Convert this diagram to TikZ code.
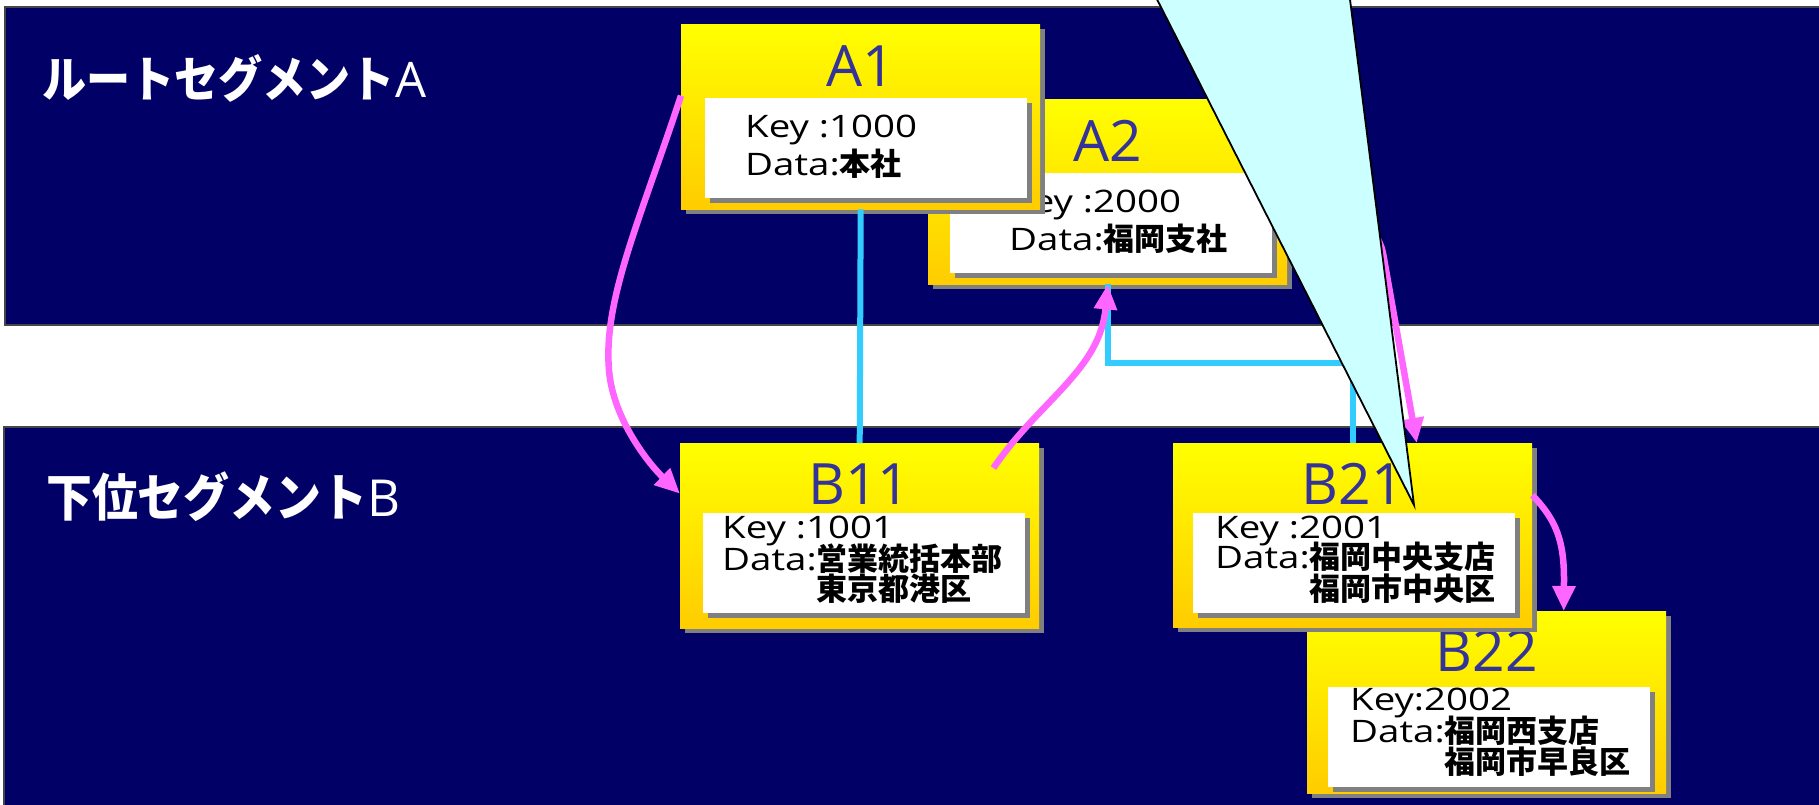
\documentclass[tikz,border=0pt]{standalone}
\usepackage{fontspec}
\setmainfont{Open Sans}
\newfontfamily\lat{Open Sans}[FakeStretch=1.24]
\newfontfamily\jp{Noto Sans CJK JP}
\newfontfamily\jplab{Noto Sans CJK JP}[FakeStretch=0.9]
\usetikzlibrary{arrows.meta}
\definecolor{navy}{RGB}{0,0,102}
\definecolor{bandline}{RGB}{70,70,70}
\definecolor{ytop}{RGB}{255,255,0}
\definecolor{ybot}{RGB}{255,204,0}
\definecolor{shgray}{RGB}{128,128,128}
\definecolor{headblue}{RGB}{51,51,153}
\definecolor{linkcyan}{RGB}{51,204,255}
\definecolor{arrowpink}{RGB}{255,102,255}
\definecolor{callcyan}{RGB}{204,255,255}
\tikzset{
  band/.style={fill=navy, draw=bandline, line width=1.5pt},
  seglabel/.style={anchor=base west, inner sep=0, text=white},
  ybox/.style={anchor=north west, minimum width=359pt, minimum height=185pt, inner sep=0, top color=ytop, bottom color=ybot, draw=none},
  wbox/.style={anchor=north west, minimum width=322pt, minimum height=100pt, inner sep=0, fill=white},
  shad/.style={fill=shgray},
  head/.style={inner sep=0, text=headblue, font=\fontsize{57}{57}\selectfont},
  keyt/.style={anchor=base west, inner sep=0, font=\lat\fontsize{31}{31}\selectfont},
  link/.style={draw=linkcyan, line width=6pt},
  parrow/.style={draw=arrowpink, line width=6.5pt, -{Triangle[length=25pt,width=22pt]}},
  callout/.style={fill=callcyan, draw=black, line width=1.8pt, line join=miter}
}
\newcommand\kj[1]{{\jp\bfseries #1}}
\begin{document}
\begin{tikzpicture}[x=1pt,y=-1pt]
\useasboundingbox (0,0) rectangle (1819,804);
\clip (0,0) rectangle (1819,804);
\fill[white] (0,0) rectangle (1819,804);
% bands
\draw[band] (5,7) rectangle (1840,325);
\draw[band] (4,427) rectangle (1840,830);
\node[seglabel, font=\fontsize{49}{49}\selectfont] (labA) at (42,97) {{\jplab\bfseries ルートセグメント}A};
\node[seglabel, font=\fontsize{51}{51}\selectfont] (labB) at (46,516) {{\jplab\bfseries 下位セグメント}B};

% A2 box
\fill[shad] (933,104) rectangle ++(359,185);
\node[ybox] (A2) at (928,99) {};
\fill[shad] (955,178) rectangle ++(322,100);
\node[wbox] (A2w) at (950,173) {};
\node[head] (A2h) at (1107.5,141) {A2};
\node[keyt] (A2k) at (1009,212) {Key :2000};
\node[keyt] (A2d) at (1009,250) {Data:\kj{福岡支社}};

% A1 box
\fill[shad] (686,29) rectangle ++(359,185);
\node[ybox] (A1) at (681,24) {};
\fill[shad] (710,103) rectangle ++(322,100);
\node[wbox] (A1w) at (705,98) {};
\node[head] (A1h) at (860.5,66) {A1};
\node[keyt] (A1k) at (745,137) {Key :1000};
\node[keyt] (A1d) at (745,175) {Data:\kj{本社}};

% B11 box
\fill[shad] (685,448) rectangle ++(359,185);
\node[ybox] (B11) at (680,443) {};
\fill[shad] (708,518) rectangle ++(322,100);
\node[wbox] (B11w) at (703,513) {};
\node[head] (B11h) at (859.5,484) {B11};
\node[keyt] (B11k) at (722,538) {Key :1001};
\node[keyt] (B11d) at (722,570) {Data:\kj{営業統括本部}};
\node[keyt] (B11e) at (722,600) {\phantom{Data:}\kj{東京都港区}};

% B22 box
\fill[shad] (1312,616) rectangle ++(359,182);
\node[ybox, minimum height=182pt] (B22) at (1307,611) {};
\fill[shad] (1333,692) rectangle ++(322,100);
\node[wbox] (B22w) at (1328,687) {};
\node[head] (B22h) at (1486.5,651) {B22};
\node[keyt] (B22k) at (1350,710) {Key:2002};
\node[keyt] (B22d) at (1350,742) {Data:\kj{福岡西支店}};
\node[keyt] (B22e) at (1350,773) {\phantom{Data:}\kj{福岡市早良区}};

% B21 box
\fill[shad] (1178,448) rectangle ++(359,184);
\node[ybox, minimum height=184pt] (B21) at (1173,443) {};
\fill[shad] (1198,518) rectangle ++(322,100);
\node[wbox] (B21w) at (1193,513) {};
\node[head] (B21h) at (1352.5,484) {B21};
\node[keyt] (B21k) at (1215,538) {Key :2001};
\node[keyt] (B21d) at (1215,568) {Data:\kj{福岡中央支店}};
\node[keyt] (B21e) at (1215,600) {\phantom{Data:}\kj{福岡市中央区}};

% cyan links
\draw[link] (A1.south) -- (B11.north);
\draw[link] (A2.south) -- (A2.south |- 0,363) -| (B21.north);

% pink arrows
\draw[parrow] ([yshift=21pt]A1.west) .. controls (640,220) and (603,300) .. (609,370) .. controls (613,420) and (650,465) .. ([yshift=42pt]B11.west);
\draw[parrow] ([xshift=-46pt,yshift=-25pt]B11.north east) .. controls (1040,400) and (1100,370) .. (A2.south);
\draw[parrow] (A2.east) .. controls (1340,200) and (1377,223) .. (1383,253) -- ([xshift=64pt]B21.north);
\draw[parrow] ([yshift=40pt]B21.east) .. controls (1556,520) and (1564,540) .. (1564,580) -- ([xshift=77pt]B22.north);

% callout pointer
\draw[callout] (1137,-40) -- (1414,505) -- (1345,-40) -- cycle;
\end{tikzpicture}
\end{document}
